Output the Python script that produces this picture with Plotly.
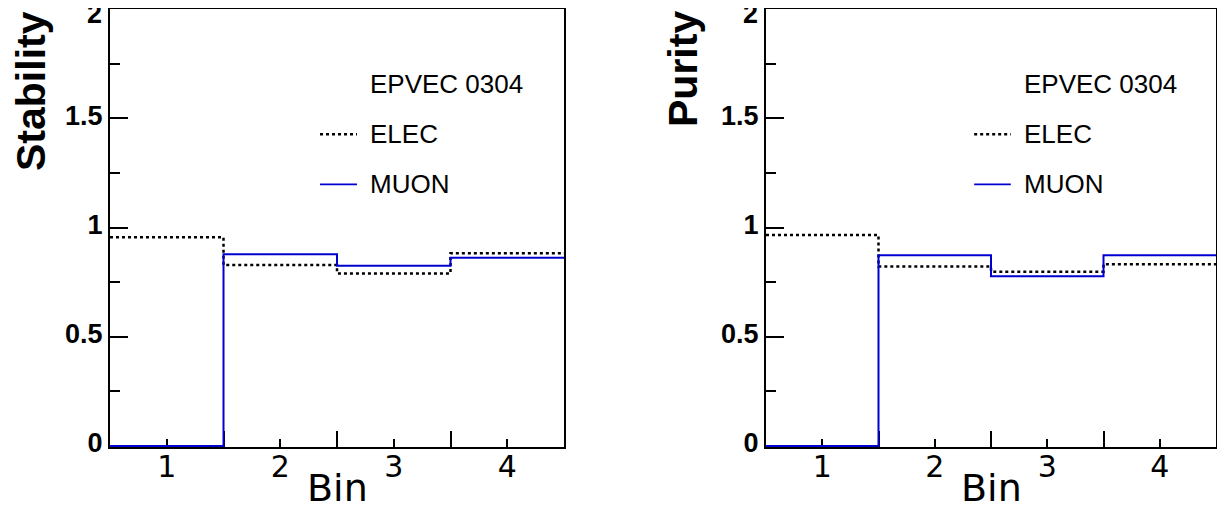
import plotly.graph_objects as go

# bin edges and per-bin contents
bin_edges = [0.5, 1.5, 2.5, 3.5, 4.5]
bin_labels = ["1", "2", "3", "4"]

stability_elec = [0.955, 0.828, 0.790, 0.882]
stability_muon = [0.0, 0.877, 0.825, 0.862]
purity_elec = [0.966, 0.821, 0.798, 0.832]
purity_muon = [0.0, 0.873, 0.777, 0.873]

panel_titles = ["Stability", "Purity"]
legend_header = "EPVEC 0304"
series_names = ["ELEC", "MUON"]
y_ticks = [0, 0.5, 1, 1.5, 2]
y_ticktext = ["0", "0.5", "1", "1.5", "2"]

BLUE = "#0000d0"

# page has an 8px body margin, so the figure is a bit smaller than the window
W, H = 1209, 500
OFF = 8


def dom_x(a, b):
    return [(a - OFF) / W, (b - OFF) / W]


def dom_y(top, bottom):
    return [1 - (bottom - OFF) / H, 1 - (top - OFF) / H]


def step_y(vals):
    # repeat last content so the "hv" step closes at the upper edge
    return list(vals) + [vals[-1]]


fig = go.Figure()

panels = [
    (stability_elec, stability_muon, "x", "y"),
    (purity_elec, purity_muon, "x2", "y2"),
]

for elec, muon, xa, ya in panels:
    fig.add_trace(go.Scatter(
        x=bin_edges, y=step_y(elec), mode="lines", line_shape="hv",
        line=dict(color="black", width=2.5, dash="dot"),
        xaxis=xa, yaxis=ya, showlegend=False, hoverinfo="skip"))
    fig.add_trace(go.Scatter(
        x=bin_edges, y=step_y(muon), mode="lines", line_shape="hv",
        line=dict(color=BLUE, width=2),
        xaxis=xa, yaxis=ya, showlegend=False, hoverinfo="skip"))

xaxis_style = dict(
    range=[0.5, 4.5], showgrid=False, zeroline=False, automargin=False,
    showline=True, linecolor="black", linewidth=2, mirror=True,
    layer="below traces",
    tickmode="array", tickvals=[1, 2, 3, 4], ticktext=bin_labels,
    ticks="inside", ticklen=8, tickwidth=2, tickcolor="black",
    ticklabelstandoff=-8,
    tickfont=dict(family="DejaVu Sans", size=30, color="black"),
    minor=dict(tick0=0.5, dtick=1, ticks="inside", ticklen=16,
               tickwidth=2, tickcolor="black", showgrid=False),
)
# the top label "2" is dropped by plotly at the edge, so it is added below as text
# range starts a hair below 0 so the zero-level step is not hidden by the frame
yaxis_style = dict(
    range=[-0.0046, 2], showgrid=False, zeroline=False, automargin=False,
    showline=True, linecolor="black", linewidth=2, mirror=True,
    layer="below traces",
    tickmode="array", tickvals=y_ticks, ticktext=y_ticktext[:-1] + [""],
    ticks="inside", ticklen=18, tickwidth=2, tickcolor="black",
    ticklabelshift=-3,
    tickfont=dict(family="Liberation Sans", size=27, color="black", weight="bold"),
    minor=dict(tick0=0, dtick=0.25, ticks="inside", ticklen=10,
               tickwidth=2, tickcolor="black", showgrid=False),
)

y_dom = dom_y(9, 447)
fig.update_layout(
    width=W, height=H,
    margin=dict(l=0, r=0, t=0, b=0, autoexpand=False),
    paper_bgcolor="white", plot_bgcolor="white",
    xaxis=dict(domain=dom_x(110, 564), anchor="y", **xaxis_style),
    yaxis=dict(domain=y_dom, anchor="x", **yaxis_style),
    xaxis2=dict(domain=dom_x(766, 1216), anchor="y2", **xaxis_style),
    yaxis2=dict(domain=y_dom, anchor="x2", **yaxis_style),
)

annotations = []
shapes = []
for i, (xa, ya) in enumerate([("x", "y"), ("x2", "y2")]):
    xd = f"{xa} domain"
    yd = f"{ya} domain"
    # top y tick label
    annotations.append(dict(
        text=f"<b>{y_ticktext[-1]}</b>", xref=xd, yref=ya, x=0, y=y_ticks[-1],
        xanchor="right", yanchor="middle", xshift=-6, yshift=-5,
        showarrow=False,
        font=dict(family="Liberation Sans", size=27, color="black")))
    # axis titles
    annotations.append(dict(
        text="Bin", xref=xd, yref="paper", x=0.5, y=0, yanchor="bottom",
        xanchor="center", showarrow=False, yshift=-4,
        font=dict(family="DejaVu Sans", size=38, color="black")))
    annotations.append(dict(
        text=panel_titles[i], xref="paper", yref=yd,
        x=((31 if i == 0 else 683) - OFF) / W, y=1.0, xanchor="center",
        yanchor="top", textangle=-90, showarrow=False,
        font=dict(family="Liberation Sans", size=41, color="black", weight="bold")))
    # legend block
    annotations.append(dict(
        text=legend_header, xref=xd, yref=yd, x=0.568, y=0.828,
        xanchor="left", yanchor="middle", showarrow=False,
        font=dict(family="Liberation Sans", size=26, color="black")))
    for name, yy in zip(series_names, [0.714, 0.5995]):
        annotations.append(dict(
            text=name, xref=xd, yref=yd, x=0.568, y=yy,
            xanchor="left", yanchor="middle", showarrow=False,
            font=dict(family="Liberation Sans", size=26, color="black")))
    shapes.append(dict(type="line", xref=xd, yref=yd, x0=0.4626, x1=0.544,
                       y0=0.714, y1=0.714,
                       line=dict(color="black", width=2.5, dash="dot")))
    shapes.append(dict(type="line", xref=xd, yref=yd, x0=0.4626, x1=0.544,
                       y0=0.5995, y1=0.5995,
                       line=dict(color=BLUE, width=1.8)))

fig.update_layout(annotations=annotations, shapes=shapes)

fig.write_html("out.html")
